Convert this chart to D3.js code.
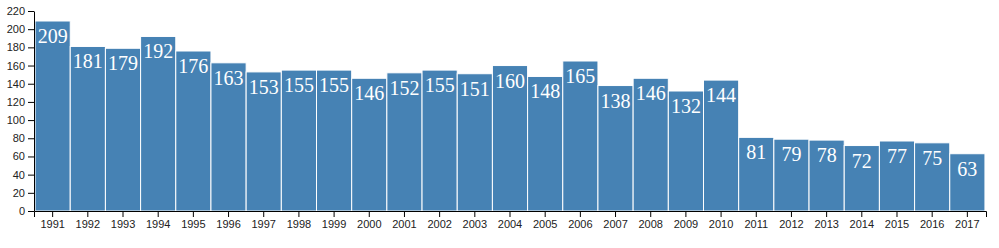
<!DOCTYPE html>
<html>
<head>
<meta charset="utf-8">
<script src="https://cdn.jsdelivr.net/npm/d3@7"></script>
<style>
  body { margin: 0; background: #fff; }
  .axis text { font-family: "Liberation Sans", Arial, sans-serif; font-size: 11px; fill: #222; }
  .axis path, .axis line { stroke: #000; }
  .bar-label { font-family: "Liberation Serif", "Times New Roman", serif; font-size: 20px; fill: #fff; text-anchor: middle; }
</style>
</head>
<body>
<div id="chart"></div>
<script>
// data
const years = [1991, 1992, 1993, 1994, 1995, 1996, 1997, 1998, 1999, 2000, 2001, 2002, 2003, 2004,
    2005, 2006, 2007, 2008, 2009, 2010, 2011, 2012, 2013, 2014, 2015, 2016, 2017];
const values = [209, 181, 179, 192, 176, 163, 153, 155, 155, 146, 152, 155, 151, 160,
    148, 165, 138, 146, 132, 144, 81, 79, 78, 72, 77, 75, 63];
const yTicks = [0, 20, 40, 60, 80, 100, 120, 140, 160, 180, 200, 220];

const chartSettings = {
    width: 999,
    height: 248,
    margin: { top: 11, right: 13, bottom: 37, left: 34 },
};
chartSettings.innerWidth = chartSettings.width - chartSettings.margin.left - chartSettings.margin.right;
chartSettings.innerHeight = chartSettings.height - chartSettings.margin.top - chartSettings.margin.bottom;

const rows = years.map((year, i) => ({ year, value: values[i] }));

const xScale = d3.scaleBand()
    .domain(years)
    .range([0, chartSettings.innerWidth])
    .paddingInner(0)
    .paddingOuter(0.03);

const yScale = d3.scaleLinear()
    .domain([0, 220])
    .range([chartSettings.innerHeight, 0]);

const svg = d3.select("#chart").append("svg")
    .attr("width", chartSettings.width)
    .attr("height", chartSettings.height);

const g = svg.append("g")
    .attr("transform", `translate(${chartSettings.margin.left},${chartSettings.margin.top})`);

// bars
g.selectAll(".bar")
    .data(rows)
    .enter()
    .append("rect")
    .attr("class", "bar")
    .attr("x", d => xScale(d.year))
    .attr("y", d => yScale(d.value))
    .attr("width", xScale.bandwidth())
    .attr("height", d => chartSettings.innerHeight - yScale(d.value))
    .attr("fill", "steelblue")
    .attr("stroke", "#fff")
    .attr("stroke-width", 1);

// value labels
g.selectAll(".bar-label")
    .data(rows)
    .enter()
    .append("text")
    .attr("class", "bar-label")
    .attr("x", d => xScale(d.year) + xScale.bandwidth() / 2)
    .attr("y", d => yScale(d.value) + 22)
    .text(d => d.value);

// axes
g.append("g")
    .attr("class", "axis")
    .attr("transform", `translate(0,${chartSettings.innerHeight})`)
    .call(d3.axisBottom(xScale).tickSizeOuter(6));

g.append("g")
    .attr("class", "axis")
    .call(d3.axisLeft(yScale).tickValues(yTicks).tickSizeOuter(0));
</script>
</body>
</html>
